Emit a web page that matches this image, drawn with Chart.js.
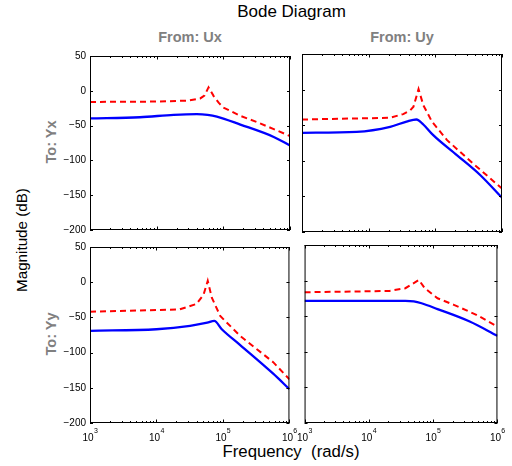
<!DOCTYPE html>
<html>
<head>
<meta charset="utf-8">
<script src="https://cdn.jsdelivr.net/npm/chart.js@4/dist/chart.umd.min.js"></script>
<style>
  html, body { margin: 0; padding: 0; background: #fff; overflow: hidden; }
  #wrap { position: relative; width: 512px; height: 466px; font-family: 'Liberation Sans', Arial, sans-serif; }
  canvas { position: absolute; }
  .lbl { position: absolute; white-space: pre; line-height: 1; }
  .sub { font-weight: bold; color: #808080; font-size: 14.5px; }
  .rot { transform: translate(-50%, -50%) rotate(-90deg); }
  .hc { transform: translateX(-50%); }
</style>
</head>
<body>
<div id="wrap">
  <div class="lbl hc" style="left:291.5px; top:2.6px; font-size:17px; color:#000;">Bode Diagram</div>
  <div class="lbl hc sub" style="left:190px; top:29.7px;">From: Ux</div>
  <div class="lbl hc sub" style="left:402px; top:29.7px;">From: Uy</div>
  <div class="lbl rot sub" style="left:50.5px; top:142px;">To: Yx</div>
  <div class="lbl rot sub" style="left:50.5px; top:334px;">To: Yy</div>
  <div class="lbl rot" style="left:22px; top:240px; font-size:15.2px; color:#000;">Magnitude (dB)</div>
  <div class="lbl hc" style="left:291px; top:443.8px; font-size:16.8px; color:#000;">Frequency  (rad/s)</div>

  <canvas id="plotTL" width="254" height="194" style="left:50px; top:46px;"></canvas>
  <canvas id="plotTR" width="222" height="194" style="left:290px; top:46px;"></canvas>
  <canvas id="plotBL" width="254" height="218" style="left:50px; top:237px;"></canvas>
  <canvas id="plotBR" width="222" height="218" style="left:290px; top:237px;"></canvas>
</div>

<script>
// ===============================
// DATOS
// ===============================

const decades = [1e3, 1e4, 1e5, 1e6];
const yTicks = [-200, -150, -100, -50, 0, 50];

// From: Ux  ->  To: Yx
const freqRedTL  = [1e3, 1e4, 3e4, 4.5e4, 5.2e4, 6e4, 7.2e4, 8.5e4, 1e5, 1.8e5, 3.2e5, 5.7e5, 1e6];
const redTL      = [-16, -15.5, -14, -11, -7, 5, -8, -17, -24, -36, -45, -55, -65];
const freqBlueTL = [1e3, 5.6e3, 1.8e4, 4e4, 5.8e4, 8e4, 1.8e5, 5.7e5, 1e6];
const blueTL     = [-39.5, -38, -34.5, -33.5, -34.5, -37, -48.5, -66.3, -78.5];

// From: Uy  ->  To: Yx
const freqRedTR  = [1e3, 2.1e4, 3.3e4, 4.2e4, 4.7e4, 5.6e4, 6.6e4, 8.9e4, 1.5e5, 3.7e5, 1e6];
const redTR      = [-42, -39.6, -34.4, -29, -24, 0.75, -21.8, -45, -71, -104, -139];
const freqBlueTR = [1e3, 6.6e3, 2.1e4, 3.7e4, 5.2e4, 6.6e4, 9.3e4, 2.1e5, 4.7e5, 1e6];
const blueTR     = [-60.7, -59.3, -52.2, -45, -42, -49, -64, -92, -120, -152];

// From: Ux  ->  To: Yy
const freqRedBL  = [1e3, 2.2e4, 4e4, 5.1e4, 5.9e4, 6.8e4, 9.1e4, 1.8e5, 5.7e5, 1e6];
const redBL      = [-42, -38.8, -30.8, -17.8, 1.9, -22, -48, -76, -113.6, -138];
const freqBlueBL = [1e3, 1e4, 3.2e4, 5.8e4, 7.4e4, 9.6e4, 1.8e5, 5.7e5, 1e6];
const blueBL     = [-69, -66.8, -62, -57.5, -55, -66.8, -89, -130, -152];

// From: Uy  ->  To: Yy
const freqRedBR  = [1e3, 2.1e4, 3.7e4, 6e4, 7.4e4, 1.17e5, 2.1e5, 4.7e5, 1e6];
const redBR      = [-16.4, -14.5, -10.7, 0.9, -10.7, -24.8, -34, -48, -64.5];
const freqBlueBR = [1e3, 3.7e4, 5e4, 6.6e4, 1.17e5, 3.7e5, 1e6];
const blueBR     = [-28.5, -28.5, -29.2, -31.8, -40, -57.5, -77.6];


Chart.defaults.font.family = "'Liberation Sans', Arial, sans-serif";
Chart.defaults.color = "#000";

// ===============================
// MARCO, MARCAS HACIA DENTRO Y EXPONENTES
// ===============================

const boxTicks = {
    id: "boxTicks",
    afterDatasetsDraw(chart) {
        const ctx = chart.ctx;
        const a = chart.chartArea;
        const x = chart.scales.x;
        const y = chart.scales.y;

        ctx.save();
        ctx.strokeStyle = "#000";
        ctx.lineWidth = 1;
        ctx.beginPath();

        yTicks.forEach(v => {
            const p = Math.round(y.getPixelForValue(v)) + 0.5;
            ctx.moveTo(a.left, p);
            ctx.lineTo(a.left + 3, p);
            ctx.moveTo(a.right, p);
            ctx.lineTo(a.right - 3, p);
        });

        decades.forEach(d => {
            for (let m = 1; m <= 9; m++) {
                const v = d * m;
                if (v > 1e6) break;
                const p = Math.round(x.getPixelForValue(v)) + 0.5;
                const len = m === 1 ? 3.5 : 2;
                ctx.moveTo(p, a.bottom);
                ctx.lineTo(p, a.bottom - len);
                ctx.moveTo(p, a.top);
                ctx.lineTo(p, a.top + len);
            }
        });

        ctx.stroke();
        ctx.strokeRect(a.left + 0.5, a.top + 0.5, a.width - 1, a.height - 1);

        // exponente de las etiquetas 10^n
        if (x.options.ticks.display) {
            ctx.fillStyle = "#000";
            ctx.font = "7px 'Liberation Sans', Arial, sans-serif";
            ctx.textAlign = "left";
            ctx.textBaseline = "alphabetic";
            decades.forEach(d => {
                const p = x.getPixelForValue(d);
                ctx.fillText(String(Math.round(Math.log10(d))), p + 3.9, a.bottom + 10);
            });
        }
        ctx.restore();
    }
};

// ===============================
// SUBGRÁFICA
// ===============================

function crearGrafica(id, fr, rv, fb, bv, conEjeY, conEjeX, izq, der) {

    const ptsRed = fr.map((f, i) => ({x: f, y: rv[i]}));
    const ptsBlue = fb.map((f, i) => ({x: f, y: bv[i]}));

    new Chart(document.getElementById(id), {
        type: "line",
        data: {
            datasets: [
                {
                    data: ptsBlue,
                    borderColor: "#0000ff",
                    borderWidth: 2.3,
                    pointRadius: 0,
                    cubicInterpolationMode: "monotone",
                    fill: false
                },
                {
                    data: ptsRed,
                    borderColor: "#ff0000",
                    borderWidth: 2,
                    borderDash: [6, 4],
                    pointRadius: 0,
                    tension: 0,
                    fill: false
                }
            ]
        },
        options: {
            responsive: false,
            animation: false,
            devicePixelRatio: 1,
            layout: {
                padding: {top: 8, right: der, bottom: 8, left: 0}
            },
            plugins: {
                legend: {display: false},
                tooltip: {enabled: false}
            },
            scales: {
                x: {
                    type: "logarithmic",
                    min: 1e3,
                    max: 1e6,
                    grid: {display: false, drawTicks: false},
                    border: {display: false},
                    afterBuildTicks: s => { s.ticks = decades.map(v => ({value: v})); },
                    afterFit: s => { s.height = conEjeX ? 24 : 0; },
                    ticks: {
                        display: conEjeX,
                        autoSkip: false,
                        maxRotation: 0,
                        padding: 9,
                        labelOffset: -2,
                        font: {size: 10},
                        callback: () => "10"
                    }
                },
                y: {
                    min: -200,
                    max: 50,
                    grid: {display: false, drawTicks: false},
                    border: {display: false},
                    afterBuildTicks: s => { s.ticks = yTicks.map(v => ({value: v})); },
                    afterFit: s => { s.width = izq; },
                    ticks: {
                        display: conEjeY,
                        padding: 4,
                        font: {size: 10},
                        callback: v => v < 0 ? "\u2212" + Math.abs(v) : String(v)
                    }
                }
            }
        },
        plugins: [boxTicks]
    });
}

crearGrafica("plotTL", freqRedTL, redTL, freqBlueTL, blueTL, true, false, 40, 14);
crearGrafica("plotTR", freqRedTR, redTR, freqBlueTR, blueTR, false, false, 12, 10);
crearGrafica("plotBL", freqRedBL, redBL, freqBlueBL, blueBL, true, true, 40, 14);
crearGrafica("plotBR", freqRedBR, redBR, freqBlueBR, blueBR, false, true, 12, 10);
</script>
</body>
</html>
